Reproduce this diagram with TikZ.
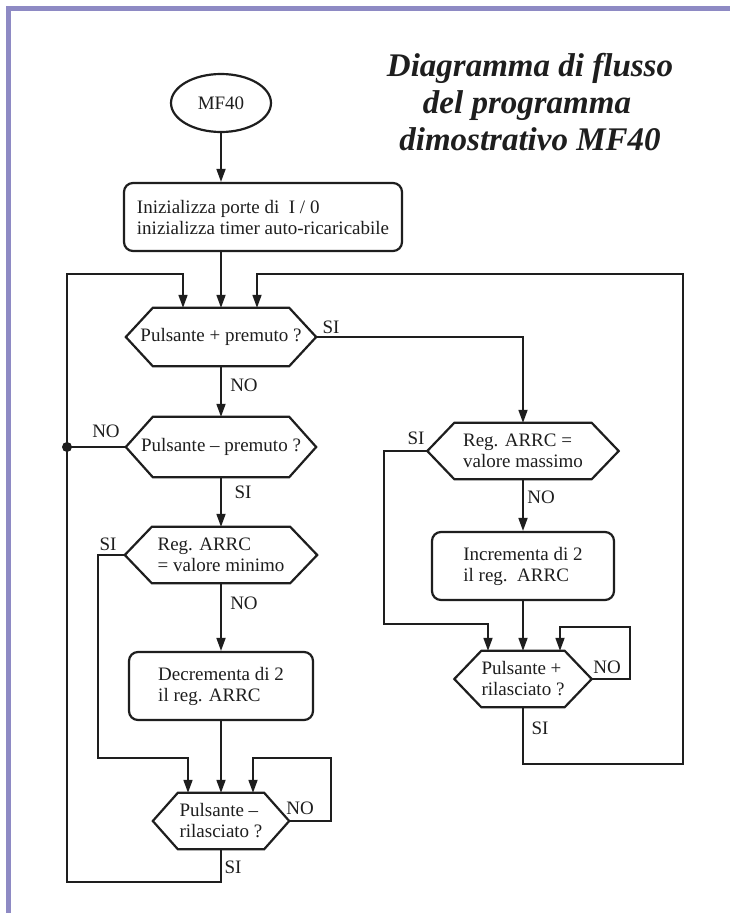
\documentclass[tikz,border=0pt]{standalone}
\usepackage{fontspec}
\setmainfont{Liberation Serif}
\usetikzlibrary{arrows.meta,shapes.geometric,calc}
\definecolor{framec}{HTML}{8E8AC4}
\definecolor{ink}{HTML}{1E1E1E}
\newcommand\hexa[2]{\draw[hexline] (#1.west) -- ([xshift=#2]#1.north west) -- ([xshift=-#2]#1.north east) -- (#1.east) -- ([xshift=-#2]#1.south east) -- ([xshift=#2]#1.south west) -- cycle;}
\begin{document}
\begin{tikzpicture}[x=1pt,y=-1pt,
  txt/.style={font=\fontsize{19}{21}\selectfont, text=ink},
  term/.style={ellipse, draw=ink, line width=2.2pt, minimum width=100pt, minimum height=58pt, inner sep=0pt, txt},
  proc/.style={rectangle, rounded corners=9pt, draw=ink, line width=2.2pt, inner sep=0pt, align=left, txt},
  dec/.style={rectangle, inner sep=0pt, align=left, txt},
  hexline/.style={draw=ink, line width=2.2pt, line join=miter},
  flow/.style={draw=ink, line width=1.7pt, -{Triangle[length=13pt,width=9pt]}},
  wire/.style={draw=ink, line width=1.7pt},
  lab/.style={txt, inner sep=0pt},
  ttl/.style={font=\fontsize{33}{37}\selectfont\bfseries\itshape, text=ink, anchor=base, inner sep=0pt}
]
\useasboundingbox (0,0) rectangle (730,913);
\fill[white] (0,0) rectangle (730,913);
\fill[framec] (6,6) rectangle (730,11);
\fill[framec] (6,6) rectangle (11,913);

% title
\node[ttl] (t1) at (530,76) {Diagramma di flusso};
\node[ttl] (t2) at (527,113) {del programma};
\node[ttl] (t3) at (530,150) {dimostrativo MF40};

% nodes
\node[term] (start) at (221,103) {MF40};
\node[proc, minimum width=278pt, minimum height=68pt] (init) at (263,217) {Inizializza porte di\ \ I / 0\\inizializza timer auto-ricaricabile};
\node[dec, minimum width=190pt, minimum height=58pt] (d1) at (221,337) {Pulsante + premuto ?};
\node[dec, minimum width=190pt, minimum height=60pt] (d2) at (221,447) {Pulsante – premuto ?};
\node[dec, minimum width=191pt, minimum height=56pt] (d3) at (523,451) {Reg. ARRC =\\valore massimo};
\node[dec, minimum width=192pt, minimum height=56pt] (d4) at (221,555) {Reg. ARRC\\= valore minimo};
\node[proc, minimum width=182pt, minimum height=68pt] (inc) at (523,566) {Incrementa di 2\\il reg.\ \ ARRC};
\node[proc, minimum width=184pt, minimum height=68pt] (dec) at (221,686) {Decrementa di 2\\il reg. ARRC};
\node[dec, minimum width=136pt, minimum height=56pt] (d6) at (221,821) {Pulsante –\\rilasciato ?};
\node[dec, minimum width=137pt, minimum height=56pt] (d7) at (523,679) {Pulsante +\\rilasciato ?};
\hexa{d1}{27pt}
\hexa{d2}{27pt}
\hexa{d3}{27pt}
\hexa{d4}{27pt}
\hexa{d6}{25pt}
\hexa{d7}{27pt}

% routing points
\coordinate (lx) at (67,274);
\coordinate (bl) at (67,882);
\coordinate (rx) at (683,274);
\coordinate (br) at (683,764);
\coordinate (a4) at (98,758);
\coordinate (n6) at (331,758);
\coordinate (a3) at (384,624);
\coordinate (n7) at (630,627);

% connectors
\draw[flow] (start.south) -- (start.south |- init.north);
\draw[flow] (d1.north |- init.south) -- (d1.north);
\draw[flow] (d1.east) -| (d3.north);
\draw[flow] (d1.south) -- (d2.north);
\draw[wire] (d2.west) -- (d2.west -| lx);
\fill[ink] (d2.west -| lx) circle (5pt);
\draw[flow] (d2.south) -- (d4.north);
\draw[flow] (d4.west) -| (a4) -| ([xshift=-33pt]d6.north);
\draw[flow] (d4.south) -- (dec.north);
\draw[flow] (dec.south) -- (d6.north);
\draw[flow] (d6.east) -| (n6) -| ([xshift=32pt]d6.north);
\draw[flow] (d6.south) |- (bl) -- (lx) -| ([xshift=-38pt]d1.north);
\draw[flow] (d3.west) -| (a3) -| ([xshift=-35pt]d7.north);
\draw[flow] (d3.south) -- (inc.north);
\draw[flow] (inc.south) -- (d7.north);
\draw[flow] (d7.east) -| (n7) -| ([xshift=37pt]d7.north);
\draw[flow] (d7.south) |- (br) -- (rx) -| ([xshift=36pt]d1.north);

% labels
\node[lab] (l1) at (331,327) {SI};
\node[lab] (l2) at (244,385) {NO};
\node[lab] (l3) at (106,431) {NO};
\node[lab] (l4) at (243,492) {SI};
\node[lab] (l5) at (108,544) {SI};
\node[lab] (l6) at (244,603) {NO};
\node[lab] (l7) at (300,808) {NO};
\node[lab] (l8) at (233,867) {SI};
\node[lab] (l9) at (416,438) {SI};
\node[lab] (l10) at (541,497) {NO};
\node[lab] (l11) at (607,667) {NO};
\node[lab] (l12) at (540,728) {SI};
\end{tikzpicture}
\end{document}
